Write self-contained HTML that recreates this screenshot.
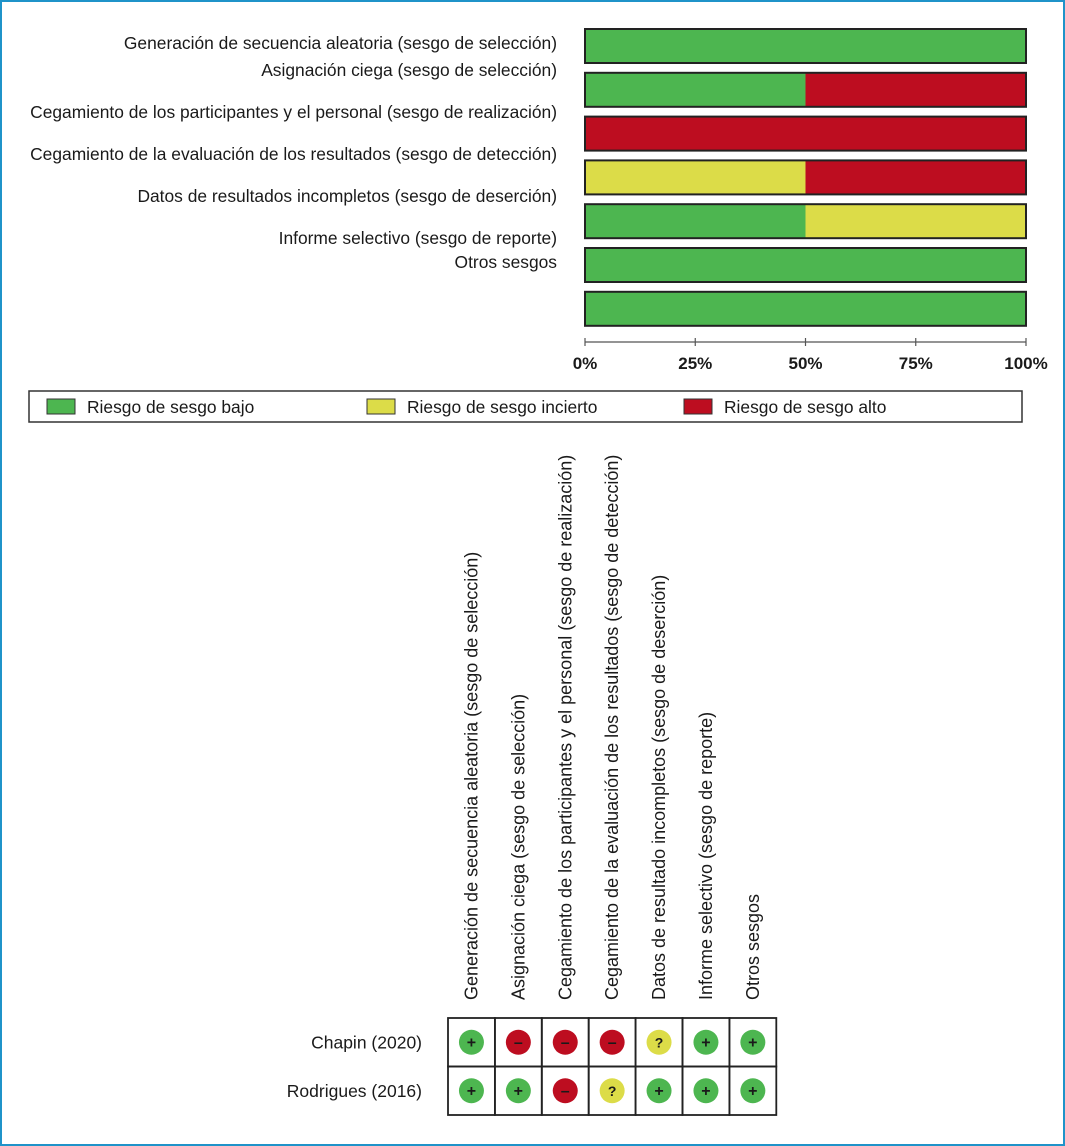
<!DOCTYPE html>
<html><head><meta charset="utf-8"><style>
html,body{margin:0;padding:0;background:#fff;}
#wrap{position:relative;width:1061px;height:1142px;border:2px solid #1f93c9;overflow:hidden;}
svg{position:absolute;left:-2px;top:-2px;}
text{font-family:"Liberation Sans",sans-serif;fill:#1a1a1a;}
</style></head><body>
<div id="wrap">
<svg id="chart" width="1065" height="1146"></svg>
</div>
<script>
const domains = ["Generación de secuencia aleatoria (sesgo de selección)","Asignación ciega (sesgo de selección)","Cegamiento de los participantes y el personal (sesgo de realización)","Cegamiento de la evaluación de los resultados (sesgo de detección)","Datos de resultados incompletos (sesgo de deserción)","Informe selectivo (sesgo de reporte)","Otros sesgos"];
const labelY = [49, 76, 118, 160, 202, 244, 268];
const lowPct = [100, 50, 0, 0, 50, 100, 100];
const unclearPct = [0, 0, 0, 50, 50, 0, 0];
const highPct = [0, 50, 100, 50, 0, 0, 0];
const tickVals = [0, 25, 50, 75, 100];
const tickLabels = ["0%","25%","50%","75%","100%"];
const legendLabels = ["Riesgo de sesgo bajo","Riesgo de sesgo incierto","Riesgo de sesgo alto"];
const gridDomains = ["Generación de secuencia aleatoria (sesgo de selección)","Asignación ciega (sesgo de selección)","Cegamiento de los participantes y el personal (sesgo de realización)","Cegamiento de la evaluación de los resultados (sesgo de detección)","Datos de resultado incompletos (sesgo de deserción)","Informe selectivo (sesgo de reporte)","Otros sesgos"];
const studies = ["Chapin (2020)","Rodrigues (2016)"];
const judgements = [["+","-","-","-","?","+","+"],["+","+","-","?","+","+","+"]];

const C = {low:"#4db650", unclear:"#dcdc48", high:"#bd0d20"};
const svg = document.getElementById('chart');
const NS = "http://www.w3.org/2000/svg";
function mk(tag, attrs, parent){const e=document.createElementNS(NS,tag);for(const k in attrs)e.setAttribute(k,attrs[k]);(parent||svg).appendChild(e);return e;}
const x0=585,x1=1026;
const xs = v => x0 + (x1-x0)*v/100;
const barTop = i => 29 + i*43.8;
const barH = 34;

domains.forEach((d,i)=>{
  const t=mk('text',{x:557,y:labelY[i],'text-anchor':'end','font-size':17.4});
  t.textContent=d;
  
  
  let acc=0;
  [[lowPct[i],C.low],[unclearPct[i],C.unclear],[highPct[i],C.high]].forEach(([v,c])=>{
    if(v>0){
      const r=mk('rect',{x:xs(acc),y:barTop(i),width:xs(acc+v)-xs(acc),height:barH,fill:c});
      
      
    }
    acc+=v;
  });
  const o=mk('rect',{x:x0,y:barTop(i),width:x1-x0,height:barH,fill:'none',stroke:'#222','stroke-width':2});
  
  
});
const ax=mk('line',{x1:x0,x2:x1,y1:342,y2:342,stroke:'#555','stroke-width':1.2});


tickVals.forEach((v,i)=>{
  mk('line',{x1:xs(v),x2:xs(v),y1:338,y2:346,stroke:'#555','stroke-width':1.2});
  const t=mk('text',{x:xs(v),y:369,'text-anchor':'middle','font-size':17,'font-weight':'bold'});
  t.textContent=tickLabels[i];
  
  
});
const lb=mk('rect',{x:29,y:391,width:993,height:31,fill:'#fff',stroke:'#333','stroke-width':1.5});


const lx=[47,367,684], lc=[C.low,C.unclear,C.high];
legendLabels.forEach((l,i)=>{
  const s=mk('rect',{x:lx[i],y:399,width:28,height:15,fill:lc[i],stroke:'#333','stroke-width':1});
  
  
  const t=mk('text',{x:lx[i]+40,y:413,'font-size':17.4});
  t.textContent=l;
  
  
});
const gx0=448,cw=46.9,gy0=1018,rh=48.5;
gridDomains.forEach((d,j)=>{
  const cx=gx0+cw*j+cw/2+6;
  const t=mk('text',{x:0,y:0,'font-size':18,transform:`translate(${cx},1000) rotate(-90)`});
  t.textContent=d;
  
  
});
studies.forEach((s,i)=>{
  const cy=gy0+rh*i+rh/2;
  const t=mk('text',{x:422,y:cy+6,'text-anchor':'end','font-size':17.5});
  t.textContent=s;
  
  
  judgements[i].forEach((j,k)=>{
    const cx=gx0+cw*k+cw/2;
    mk('rect',{x:gx0+cw*k,y:gy0+rh*i,width:cw,height:rh,fill:'none',stroke:'#222','stroke-width':1.8});
    const col=j==='+'?C.low:j==='-'?C.high:C.unclear;
    const c=mk('circle',{cx:cx,cy:cy,r:12.5,fill:col});
    
    
    const tt=mk('text',{x:cx,y:cy+5,'text-anchor':'middle','font-size':j==='?'?14:16,'font-weight':'bold',fill:j==='-'?'#5a0a10':'#111'});
    tt.textContent=j==='-'?'–':j;
  });
});
</script>
</body></html>
